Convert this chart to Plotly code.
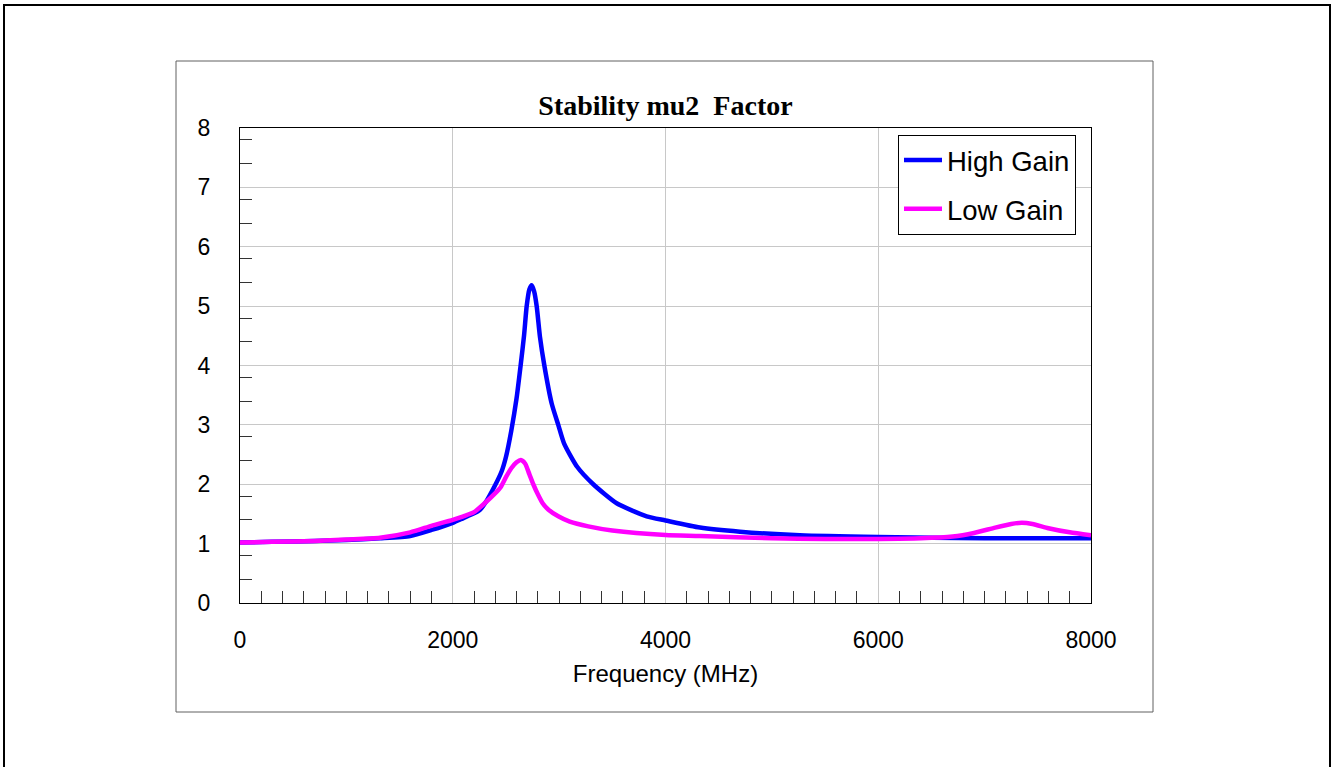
import plotly.graph_objects as go

# ---- data ----
freq_high = [0, 300, 700, 1000, 1316, 1600, 1800, 2000, 2100, 2200, 2256, 2300, 2397,
             2460, 2500, 2550, 2600, 2638, 2670, 2695, 2720, 2742, 2765, 2789, 2820,
             2861, 2930, 2992, 3046, 3171, 3321, 3541, 3823, 4000, 4324, 4700, 5263,
             6000, 7000, 8000]
high_gain = [1.02, 1.03, 1.045, 1.06, 1.09, 1.13, 1.23, 1.35, 1.43, 1.51, 1.57, 1.67, 1.98,
             2.22, 2.46, 2.90, 3.45, 4.00, 4.50, 5.00, 5.28, 5.35, 5.25, 5.00, 4.48,
             4.00, 3.36, 3.00, 2.69, 2.29, 2.00, 1.68, 1.46, 1.39, 1.27, 1.20, 1.14,
             1.11, 1.09, 1.09]

freq_low = [0, 300, 700, 1000, 1316, 1600, 1800, 2000, 2100, 2200, 2300, 2400, 2450,
            2500, 2550, 2600, 2640, 2680, 2720, 2757, 2800, 2845, 2900, 2992, 3100,
            3274, 3500, 4000, 4324, 5000, 5500, 6000, 6400, 6700, 6900, 7100, 7250,
            7350, 7450, 7600, 7800, 8000]
low_gain = [1.02, 1.03, 1.045, 1.07, 1.10, 1.19, 1.30, 1.40, 1.46, 1.53, 1.68, 1.85, 1.95,
            2.12, 2.27, 2.37, 2.41, 2.35, 2.17, 2.00, 1.83, 1.68, 1.57, 1.46, 1.37,
            1.29, 1.22, 1.145, 1.13, 1.09, 1.08, 1.08, 1.09, 1.12, 1.18, 1.27, 1.33,
            1.35, 1.33, 1.26, 1.19, 1.14]

series_names = ["High Gain", "Low Gain"]
series_colors = ["#0000FF", "#FF00FF"]

x_major = [0, 2000, 4000, 6000, 8000]
y_major = [0, 1, 2, 3, 4, 5, 6, 7, 8]
x_minor = [v for v in range(200, 8000, 200) if v % 2000 != 0]
y_minor = [k + f for k in range(8) for f in (0.4, 0.8)]

title_text = "Stability mu2 \u00a0Factor"
x_title = "Frequency (MHz)"

# ---- layout geometry (pixels) ----
W, H = 1331, 767
L, R, T, B = 240, 1091, 128, 603


def px(xp):
    return (xp - L) / (R - L)


def py(yp):
    return (B - yp) / (B - T)


fig = go.Figure()
for name, xs, vals, col, grp in zip(series_names, [freq_high, freq_low],
                                    [high_gain, low_gain], series_colors, ["a", "b"]):
    fig.add_trace(go.Scatter(
        x=xs, y=vals, mode="lines", name=name, legendgroup=grp,
        line=dict(color=col, width=4.5, shape="spline", smoothing=0.6),
    ))

axis_common = dict(
    showline=True, linecolor="black", linewidth=1, mirror=True,
    showgrid=True, gridcolor="#c8c8c8", gridwidth=1, zeroline=False,
    ticks="outside", tickcolor="rgba(0,0,0,0)",
    tickfont=dict(family="Liberation Sans, Arial", size=23, color="black"),
)

fig.update_layout(
    width=W, height=H,
    margin=dict(l=L, r=W - R, t=T, b=H - B, pad=0),
    paper_bgcolor="white", plot_bgcolor="white",
    title=dict(text="<b>" + title_text + "</b>", x=(L + R) / 2 / W, xanchor="center",
               y=1 - 105 / H, yanchor="middle",
               font=dict(family="Liberation Serif, Times New Roman", size=28, color="black"),
               ),
    xaxis=dict(range=[0, 8000], tickmode="array", tickvals=x_major, ticklen=16,
               title=dict(text=x_title, standoff=13,
                          font=dict(family="Liberation Sans, Arial", size=24, color="black")),
               minor=dict(tickmode="array", tickvals=x_minor, ticks="inside",
                          ticklen=12, tickwidth=1, tickcolor="#333", showgrid=False),
               **axis_common),
    yaxis=dict(range=[0, 8], tickmode="array", tickvals=y_major, ticklen=24,
               minor=dict(tickmode="array", tickvals=y_minor, ticks="inside",
                          ticklen=12, tickwidth=1, tickcolor="#333", showgrid=False),
               **axis_common),
    legend=dict(x=px(898), y=py(134.7), xanchor="left", yanchor="top",
                bgcolor="white", bordercolor="black", borderwidth=1,
                font=dict(family="Liberation Sans, Arial", size=27.5, color="black"),
                traceorder="grouped", tracegroupgap=10, itemwidth=38),
    showlegend=True,
    shapes=[
        dict(type="rect", xref="paper", yref="paper",
             x0=px(4), x1=px(1330), y0=py(775), y1=py(5),
             line=dict(color="black", width=2), fillcolor="rgba(0,0,0,0)", layer="below"),
        dict(type="rect", xref="paper", yref="paper",
             x0=px(176), x1=px(1153), y0=py(712), y1=py(61),
             line=dict(color="#606060", width=1), fillcolor="rgba(0,0,0,0)", layer="below"),
    ],
)

fig.write_html("out.html", config={"displayModeBar": False},
               post_script="document.body.style.margin='0px';document.body.style.overflow='hidden';")
